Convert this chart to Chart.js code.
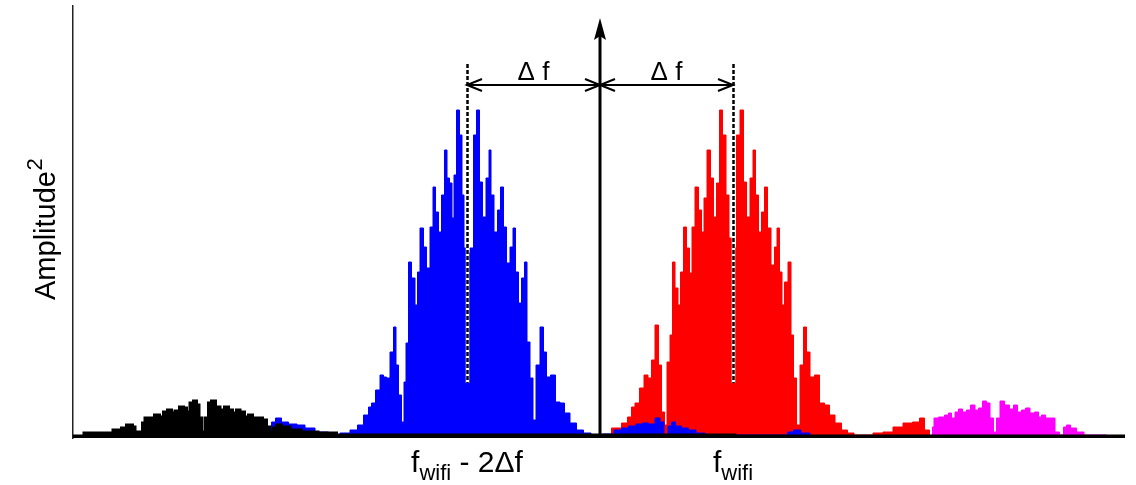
<!DOCTYPE html>
<html>
<head>
<meta charset="utf-8">
<script src="https://cdn.jsdelivr.net/npm/chart.js@4.4.0/dist/chart.umd.min.js"></script>
<style>
  html, body { margin: 0; padding: 0; background: #fff; }
  #spectrumChart { display: block; }
</style>
</head>
<body>
<canvas id="spectrumChart" width="1136" height="485"></canvas>
<script>
// frequency bins (x) and power (y)
const blueSpectrum = [
  [73,1],[270,2],[273,16],[278,20],[285,16],[292,14],[302,13],[308,10],[322,6],[335,3],
  [345,5],[355,8],[360,13],[367,23],[370,31],[373,35],[378,48],[382,63],[385,61],[388,60],
  [392,86],[395,111],[397,73],[400,43],[403,16],[405,56],[407,95],[410,176],[413,160],[417,133],
  [418,166],[422,210],[425,191],[428,170],[432,211],[434,251],[437,226],[440,206],[443,243],[446,288],
  [448,260],[451,255],[453,220],[455,263],[458,328],[461,303],[463,243],[465,190],[468,185],
  [472,190],[475,303],[478,328],[481,256],[484,221],[488,260],[490,288],[492,243],[496,206],[499,228],
  [502,251],[505,211],[508,175],[512,191],[514,210],[517,166],[520,135],[523,160],[526,176],[528,96],
  [532,60],[534,18],[538,73],[542,111],[545,86],[548,61],[553,63],[558,36],[562,35],[567,25],
  [573,15],[580,8],[587,5],[595,2],[610,4],[618,8],[625,10],[632,12],[640,14],[645,15],
  [652,14],[658,20],[662,16],[666,3],[670,12],[673,16],[678,12],[685,10],[692,8],[700,5],
  [710,3],[785,3],[790,6],[797,8],[805,5],[815,2],[1125,1]
];

const redSpectrum = [
  [73,1],[600,1],[605,3],[618,10],[625,15],[630,21],[633,31],[637,35],[642,50],[646,63],
  [650,60],[653,78],[657,113],[660,73],[663,26],[666,13],[668,76],[672,103],[673,176],[677,150],
  [679,133],[682,166],[685,211],[688,190],[691,165],[693,211],[697,251],[700,228],[703,206],[705,240],
  [709,288],[712,260],[715,221],[718,255],[721,328],[724,303],[728,243],[730,200],[733,185],
  [735,190],[738,303],[742,328],[745,256],[748,221],[752,260],[754,288],[757,243],[760,206],[763,226],
  [766,251],[769,210],[773,173],[776,191],[778,210],[781,166],[783,133],[786,156],[790,176],[792,103],
  [795,60],[798,13],[802,73],[805,111],[808,86],[812,61],[817,63],[822,35],[827,33],[832,23],
  [838,15],[845,8],[850,5],[858,3],[868,3],[878,5],[888,6],[898,11],[908,15],[917,16],
  [922,20],[927,8],[932,2],[1125,1]
];

const magentaSpectrum = [
  [73,0],[930,1],[932,3],[933,11],[935,20],[942,21],[947,23],[950,25],[953,20],[957,26],
  [960,29],[965,26],[968,28],[973,33],[977,28],[980,30],[985,37],[988,35],[992,20],[995,6],
  [998,20],[1002,37],[1007,33],[1012,29],[1015,33],[1020,26],[1023,28],[1028,30],[1032,25],[1037,26],
  [1040,21],[1043,23],[1048,20],[1053,20],[1057,6],[1062,3],[1065,11],[1068,13],[1073,10],[1080,6],
  [1088,3],[1125,1]
];

const blackSpectrum = [
  [73,2],[95,5],[108,5],[118,8],[125,10],[128,13],[132,13],[133,11],[137,6],[142,6],
  [143,15],[147,20],[152,20],[157,23],[162,21],[165,26],[170,28],[173,25],[177,27],[182,31],
  [185,30],[188,26],[192,35],[195,37],[198,33],[200,20],[203,6],[207,20],[210,35],[213,37],
  [218,31],[222,28],[227,31],[230,28],[235,25],[238,28],[242,26],[247,21],[250,23],[255,20],
  [260,20],[265,18],[268,11],[272,6],[275,10],[278,13],[285,11],[295,8],[308,6],[328,5],
  [345,3],[1125,2]
];

// annotation positions (in data units)
const centerFreq = 600;
const markerFreqs = [467, 733];
const arrowLevel = 353;
const arrowTop = 420;
const dashTop = 374;
const dashBottom = 55;
const deltaLabel = 'Δ f';
const tickLabels = [
  { at: 467, main: 'f', sub: 'wifi', rest: ' - 2Δf' },
  { at: 733, main: 'f', sub: 'wifi', rest: '' }
];
const yTitle = { main: 'Amplitude', sup: '2' };

const FONT = '"Liberation Sans", Arial, Helvetica, sans-serif';

function toPoints(arr) {
  return arr.map(p => ({ x: p[0], y: p[1] }));
}

function spectrumSet(label, arr, color, order, width) {
  return {
    label: label,
    data: toPoints(arr),
    borderColor: color,
    backgroundColor: color,
    borderWidth: width,
    pointRadius: 0,
    tension: 0,
    stepped: 'middle',
    fill: 'origin',
    order: order
  };
}

function chevron(ctx, x, y, dir) {
  ctx.beginPath();
  ctx.moveTo(x - dir * 15, y - 6);
  ctx.lineTo(x, y);
  ctx.lineTo(x - dir * 15, y + 6);
  ctx.stroke();
}

const annotationPlugin = {
  id: 'annotations',
  afterDatasetsDraw(chart) {
    const { ctx, scales: { x, y }, chartArea } = chart;
    ctx.save();

    // dashed marker lines
    markerFreqs.forEach(f => {
      const px = Math.round(x.getPixelForValue(f)) + 0.5;
      ctx.strokeStyle = '#fff';
      ctx.lineWidth = 3.5;
      ctx.setLineDash([]);
      ctx.beginPath();
      ctx.moveTo(px, y.getPixelForValue(dashTop));
      ctx.lineTo(px, y.getPixelForValue(dashBottom));
      ctx.stroke();
      ctx.strokeStyle = '#000';
      ctx.lineWidth = 2.5;
      ctx.setLineDash([4, 2]);
      ctx.beginPath();
      ctx.moveTo(px, y.getPixelForValue(dashTop));
      ctx.lineTo(px, y.getPixelForValue(dashBottom));
      ctx.stroke();
    });
    ctx.setLineDash([]);

    // central arrow
    const cx = x.getPixelForValue(centerFreq);
    const tipY = y.getPixelForValue(arrowTop);
    ctx.strokeStyle = '#000';
    ctx.fillStyle = '#000';
    ctx.lineWidth = 3;
    ctx.beginPath();
    ctx.moveTo(cx, chartArea.bottom);
    ctx.lineTo(cx, tipY + 10);
    ctx.stroke();
    ctx.beginPath();
    ctx.moveTo(cx, tipY);
    ctx.lineTo(cx - 6, tipY + 22);
    ctx.lineTo(cx, tipY + 18);
    ctx.lineTo(cx + 6, tipY + 22);
    ctx.closePath();
    ctx.fill();

    // delta f arrows
    const ay = y.getPixelForValue(arrowLevel);
    const x1 = x.getPixelForValue(markerFreqs[0]);
    const x2 = x.getPixelForValue(markerFreqs[1]);
    ctx.lineWidth = 2;
    ctx.beginPath();
    ctx.moveTo(x1, ay);
    ctx.lineTo(x2, ay);
    ctx.stroke();
    chevron(ctx, x1, ay, -1);
    chevron(ctx, cx, ay, 1);
    chevron(ctx, cx, ay, -1);
    chevron(ctx, x2, ay, 1);

    ctx.font = '26px ' + FONT;
    ctx.textAlign = 'center';
    ctx.textBaseline = 'alphabetic';
    ctx.fillText(deltaLabel, (x1 + cx) / 2, ay - 5);
    ctx.fillText(deltaLabel, (cx + x2) / 2, ay - 5);

    // frequency labels with subscript
    const mainFont = '30px ' + FONT;
    const subFont = '22px ' + FONT;
    const baseY = chartArea.bottom + 34;
    tickLabels.forEach(t => {
      ctx.font = mainFont;
      const wMain = ctx.measureText(t.main).width;
      const wRest = ctx.measureText(t.rest).width;
      ctx.font = subFont;
      const wSub = ctx.measureText(t.sub).width;
      let px = x.getPixelForValue(t.at) - (wMain + wSub + wRest) / 2;
      ctx.textAlign = 'left';
      ctx.font = mainFont;
      ctx.fillText(t.main, px, baseY);
      px += wMain;
      ctx.font = subFont;
      ctx.fillText(t.sub, px, baseY + 8);
      px += wSub;
      ctx.font = mainFont;
      ctx.fillText(t.rest, px, baseY);
    });

    // y axis title with superscript
    ctx.save();
    ctx.translate(chartArea.left - 18, 300);
    ctx.rotate(-Math.PI / 2);
    ctx.textAlign = 'left';
    ctx.font = '29px ' + FONT;
    ctx.fillText(yTitle.main, 0, 0);
    const wTitle = ctx.measureText(yTitle.main).width;
    ctx.font = '22px ' + FONT;
    ctx.fillText(yTitle.sup, wTitle + 0.5, -13);
    ctx.restore();

    ctx.restore();
  }
};

const ctx = document.getElementById('spectrumChart').getContext('2d');
new Chart(ctx, {
  type: 'line',
  data: {
    datasets: [
      spectrumSet('black', blackSpectrum, '#000000', 0, 3),
      spectrumSet('magenta', magentaSpectrum, '#ff00ff', 1, 1),
      spectrumSet('blue', blueSpectrum, '#0000ff', 2, 1),
      spectrumSet('red', redSpectrum, '#ff0000', 3, 1)
    ]
  },
  options: {
    responsive: false,
    animation: false,
    devicePixelRatio: 1,
    layout: {
      padding: { left: 73, right: 11, top: 6, bottom: 47 }
    },
    plugins: {
      legend: { display: false },
      tooltip: { enabled: false },
      title: { display: false }
    },
    scales: {
      x: {
        type: 'linear',
        min: 73,
        max: 1125,
        display: false
      },
      y: {
        min: 0,
        max: 432,
        ticks: { display: false },
        grid: { display: false, drawTicks: false },
        border: { display: true, color: '#222', width: 1.5 }
      }
    }
  },
  plugins: [annotationPlugin]
});
</script>
</body>
</html>
